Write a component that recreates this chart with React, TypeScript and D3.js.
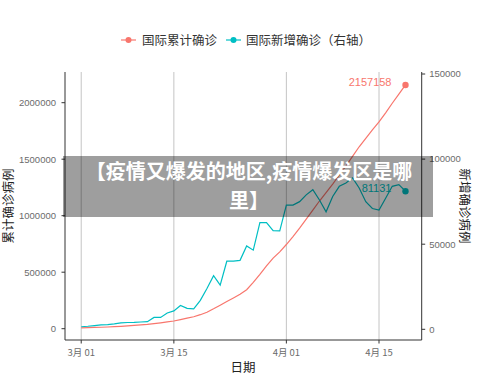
import { useEffect, useRef } from 'react';
import * as d3 from 'd3';

// 2020-03-01 .. 2020-04-19, one value per day
const startDate = new Date(2020, 2, 1);

// 国际累计确诊 (thousands)
const cumulative = [
  8, 9, 11, 13, 15, 18, 21, 25, 29, 33,
  38, 45, 52, 60, 68, 80, 93, 106, 124, 146,
  176, 208, 240, 272, 305, 345, 410, 480, 555, 625,
  680, 745, 815, 890, 970, 1050, 1130, 1205, 1280, 1360,
  1440, 1525, 1610, 1685, 1760, 1830, 1910, 1995, 2075, 2157.158,
];

// 国际新增确诊 (thousands, right axis)
const daily = [
  1.5, 1.8, 2.2, 2.6, 2.8, 3.2, 3.8, 4.0, 4.1, 4.3,
  4.5, 7.0, 7.0, 9.6, 10.8, 14.0, 12.3, 12.0, 17.0, 24.0,
  31.5, 26.0, 40.0, 40.0, 40.5, 49.0, 46.5, 62.7, 62.7, 58.0,
  57.8, 73.0, 73.0, 75.0, 79.0, 82.0, 76.0, 69.0, 78.0, 84.0,
  86.0, 89.0, 83.0, 75.0, 71.0, 70.0, 77.0, 84.0, 85.0, 81.131,
];

const leftTicks = [0, 500000, 1000000, 1500000, 2000000];
const rightTicks = [0, 50000, 100000, 150000];
const xTickDates = [new Date(2020, 2, 1), new Date(2020, 2, 15), new Date(2020, 3, 1), new Date(2020, 3, 15)];

const RED = '#F8766D';
const TEAL = '#00BFC4';
const CJK = '"Noto Sans CJK SC", "Noto Sans", sans-serif';
const NUM = '"Liberation Sans", Arial, sans-serif';

export default function App() {
  const svgRef = useRef<SVGSVGElement>(null);

  useEffect(() => {
    const svg = d3.select(svgRef.current);
    svg.selectAll('*').remove();

    const left = 65, right = 421.7, top = 72, bottom = 340;

    const dates = cumulative.map((_, i) => d3.timeDay.offset(startDate, i));
    // ggplot-style 5% expansion around the 49-day span
    const t0 = +dates[0], t1 = +dates[dates.length - 1];
    const pad = (t1 - t0) * 0.05;
    const x = d3.scaleTime()
      .domain([new Date(t0 - pad), new Date(t1 + pad)])
      .range([left, right]);
    const yL = d3.scaleLinear().domain([0, 2000000]).range([328.7, 102.7]);
    const yR = d3.scaleLinear().domain([0, 150000]).range([329.3, 74]);

    svg.append('rect').attr('width', 500).attr('height', 375).attr('fill', '#fff');

    // vertical grid
    svg.append('g').selectAll('line').data(xTickDates).join('line')
      .attr('x1', d => x(d)).attr('x2', d => x(d))
      .attr('y1', top).attr('y2', bottom)
      .attr('stroke', '#c4c4c4').attr('stroke-width', 1);

    // lines
    const lineL = d3.line<number>().x((_, i) => x(dates[i])).y(d => yL(d * 1000));
    const lineR = d3.line<number>().x((_, i) => x(dates[i])).y(d => yR(d * 1000));

    svg.append('path').attr('d', lineL(cumulative)).attr('fill', 'none')
      .attr('stroke', RED).attr('stroke-width', 1.2);
    svg.append('path').attr('d', lineR(daily)).attr('fill', 'none')
      .attr('stroke', TEAL).attr('stroke-width', 1.2);

    const n = cumulative.length - 1;
    svg.append('circle').attr('cx', x(dates[n])).attr('cy', yL(cumulative[n] * 1000))
      .attr('r', 3.2).attr('fill', RED);
    svg.append('circle').attr('cx', x(dates[n])).attr('cy', yR(daily[n] * 1000))
      .attr('r', 3.2).attr('fill', TEAL);

    svg.append('text').attr('x', x(dates[n]) - 14).attr('y', yL(cumulative[n] * 1000) + 1)
      .attr('text-anchor', 'end').attr('font-family', NUM).attr('font-size', 11)
      .attr('fill', RED).text(String(Math.round(cumulative[n] * 1000)));
    svg.append('text').attr('x', x(dates[n]) - 14).attr('y', yR(daily[n] * 1000) + 1)
      .attr('text-anchor', 'end').attr('font-family', NUM).attr('font-size', 11)
      .attr('fill', TEAL).text(String(Math.round(daily[n] * 1000)));

    // axes
    const axisColor = '#333';
    const labelColor = '#6b6b6b';
    const ax = svg.append('g').attr('stroke', axisColor).attr('stroke-width', 1);
    ax.append('line').attr('x1', left).attr('x2', left).attr('y1', top).attr('y2', bottom);
    ax.append('line').attr('x1', right).attr('x2', right).attr('y1', top).attr('y2', bottom);
    ax.append('line').attr('x1', left).attr('x2', right).attr('y1', bottom).attr('y2', bottom);

    leftTicks.forEach(t => {
      ax.append('line').attr('x1', left - 3.5).attr('x2', left).attr('y1', yL(t)).attr('y2', yL(t));
      svg.append('text').attr('x', left - 9).attr('y', yL(t)).attr('dy', '0.35em')
        .attr('text-anchor', 'end').attr('font-family', NUM).attr('font-size', 9.5)
        .attr('fill', labelColor).text(String(t));
    });
    rightTicks.forEach(t => {
      ax.append('line').attr('x1', right).attr('x2', right + 3.5).attr('y1', yR(t)).attr('y2', yR(t));
      svg.append('text').attr('x', right + 7.5).attr('y', yR(t)).attr('dy', '0.35em')
        .attr('text-anchor', 'start').attr('font-family', NUM).attr('font-size', 9.5)
        .attr('fill', labelColor).text(String(t));
    });
    xTickDates.forEach(d => {
      ax.append('line').attr('x1', x(d)).attr('x2', x(d)).attr('y1', bottom).attr('y2', bottom + 3.5);
      svg.append('text').attr('x', x(d)).attr('y', 356)
        .attr('text-anchor', 'middle').attr('font-family', CJK).attr('font-size', 9.5)
        .attr('fill', labelColor).text(`${d.getMonth() + 1}月 ${d3.timeFormat('%d')(d)}`);
    });

    // axis titles
    svg.append('text').attr('x', 243).attr('y', 372).attr('text-anchor', 'middle')
      .attr('font-family', CJK).attr('font-size', 12.5).attr('fill', '#222').text('日期');
    svg.append('text').attr('transform', `translate(13,206) rotate(-90)`).attr('text-anchor', 'middle')
      .attr('font-family', CJK).attr('font-size', 12.5).attr('fill', '#222').text('累计确诊病例');
    svg.append('text').attr('transform', `translate(460,206) rotate(90)`).attr('text-anchor', 'middle')
      .attr('font-family', CJK).attr('font-size', 12.5).attr('fill', '#222').text('新增确诊病例');

    // legend
    const lg = svg.append('g');
    const legendItems = [
      { color: RED, label: '国际累计确诊', kx: 121, tx: 142 },
      { color: TEAL, label: '国际新增确诊（右轴）', kx: 226, tx: 246 },
    ];
    legendItems.forEach(it => {
      lg.append('line').attr('x1', it.kx).attr('x2', it.kx + 15).attr('y1', 40).attr('y2', 40)
        .attr('stroke', it.color).attr('stroke-width', 1.2);
      lg.append('circle').attr('cx', it.kx + 7.5).attr('cy', 40).attr('r', 3).attr('fill', it.color);
      lg.append('text').attr('x', it.tx).attr('y', 40).attr('dy', '0.36em')
        .attr('font-family', CJK).attr('font-size', 12.5).attr('fill', '#333').text(it.label);
    });

    // title overlay
    svg.append('rect').attr('x', 63).attr('y', 156).attr('width', 370).attr('height', 61)
      .attr('fill', 'rgba(0,0,0,0.38)');
    const tt = svg.append('text').attr('text-anchor', 'middle').attr('font-family', CJK)
      .attr('font-size', 20).attr('font-weight', 700).attr('fill', '#fff');
    tt.append('tspan').attr('x', 249).attr('y', 179).text('【疫情又爆发的地区,疫情爆发区是哪');
    tt.append('tspan').attr('x', 249).attr('y', 208).text('里】');
  }, []);

  return (
    <svg ref={svgRef} width={500} height={375}
      style={{ position: 'absolute', left: 0, top: 0, display: 'block' }} />
  );
}
